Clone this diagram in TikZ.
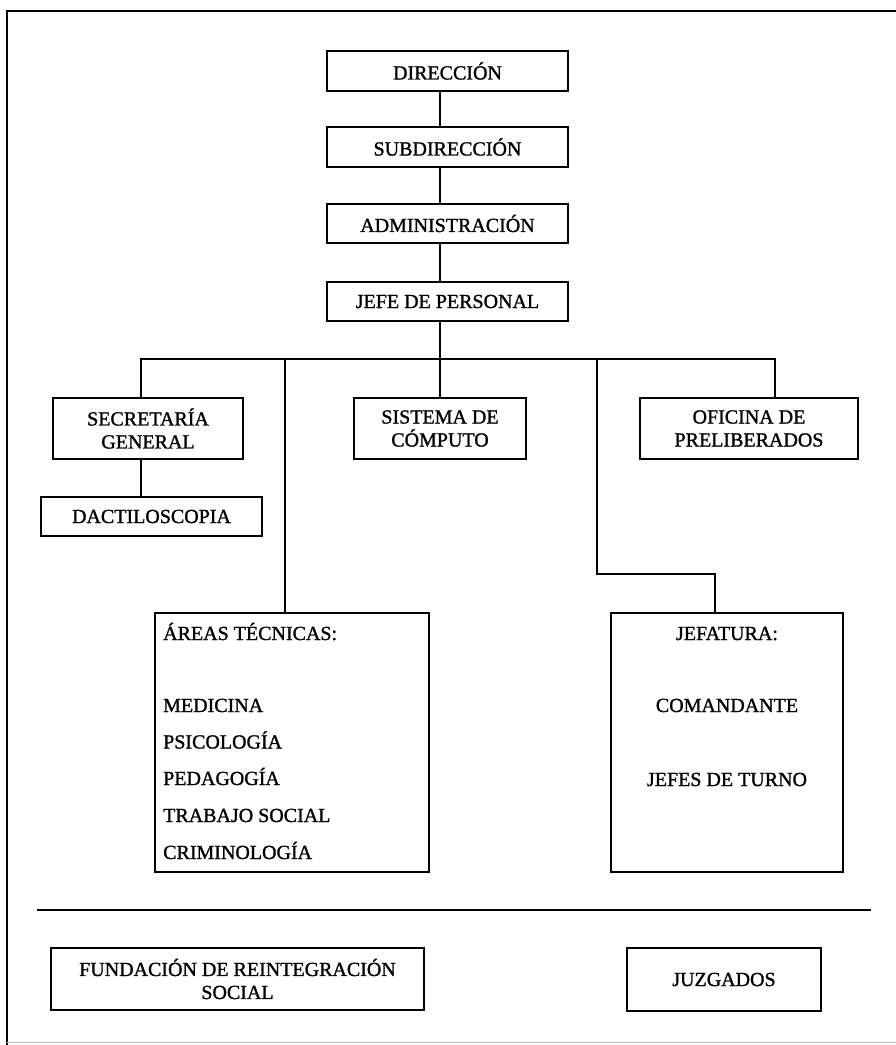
\documentclass[tikz,border=0pt]{standalone}
\usepackage{fontspec}
\setmainfont{Liberation Serif}[FakeBold=1.2]
\begin{document}
\begin{tikzpicture}[x=1pt,y=-1pt,
  box/.style={draw,line width=1.7pt,inner sep=0pt,align=center,font=\fontsize{20}{23}\selectfont},
  conn/.style={line width=1.4pt},
  txt/.style={inner sep=0pt,font=\fontsize{20}{23}\selectfont},
  frame/.style={line width=2pt}]
\useasboundingbox (0,0) rectangle (896,1045);
\fill[white] (0,0) rectangle (896,1045);
% frame
\draw[frame] (896,11) -- (7,11) -- (7,1045);
\draw[black!25,line width=0.8pt] (7,1042) -- (896,1042);
% top chain
\node[box,minimum width=241pt,minimum height=40pt] (dir) at (447.5,71) {DIRECCIÓN};
\node[box,minimum width=241pt,minimum height=40pt] (sub) at (447.5,147) {SUBDIRECCIÓN};
\node[box,minimum width=241pt,minimum height=39pt] (adm) at (447.5,223.5) {ADMINISTRACIÓN};
\node[box,minimum width=241pt,minimum height=39pt] (jef) at (447.5,301.5) {JEFE DE PERSONAL};
% second level
\node[box,minimum width=190pt,minimum height=61pt] (sec) at (148,428.5) {SECRETARÍA\\GENERAL};
\node[box,minimum width=172pt,minimum height=61pt] (sis) at (440,428.5) {SISTEMA DE\\CÓMPUTO};
\node[box,minimum width=218pt,minimum height=61pt] (ofi) at (749,428.5) {OFICINA DE\\PRELIBERADOS};
\node[box,minimum width=221pt,minimum height=39pt] (dact) at (151.5,516.5) {DACTILOSCOPIA};
% large boxes
\node[draw,line width=1.7pt,minimum width=274pt,minimum height=259pt,inner sep=0pt] (areas) at (292,742.5) {};
\node[draw,line width=1.7pt,minimum width=232pt,minimum height=259pt,inner sep=0pt] (jefat) at (727,742.5) {};
\node[txt,anchor=base west] (a0) at (163,640) {ÁREAS TÉCNICAS:};
\node[txt,anchor=base west] (a1) at (163,712) {MEDICINA};
\node[txt,anchor=base west] (a2) at (163,748.5) {PSICOLOGÍA};
\node[txt,anchor=base west] (a3) at (163,785) {PEDAGOGÍA};
\node[txt,anchor=base west] (a4) at (163,822) {TRABAJO SOCIAL};
\node[txt,anchor=base west] (a5) at (163,859) {CRIMINOLOGÍA};
\node[txt,anchor=base] (j0) at (727,640) {JEFATURA:};
\node[txt,anchor=base] (j1) at (727,712) {COMANDANTE};
\node[txt,anchor=base] (j2) at (727,786) {JEFES DE TURNO};
% bottom
\node[box,minimum width=373pt,minimum height=62pt] (fund) at (237.5,979) {FUNDACIÓN DE REINTEGRACIÓN\\SOCIAL};
\node[box,minimum width=194pt,minimum height=63pt] (juz) at (724,979.5) {JUZGADOS};
\coordinate (sepL) at (37,910);
\coordinate (sepR) at (871,910);
\draw[line width=1.6pt] (sepL) -- (sepR);
% connectors
\coordinate (spine) at (440,0);
\coordinate (busL) at (141,359);
\coordinate (busR) at (775,359);
\coordinate (aX) at (285,359);
\coordinate (jX) at (597,359);
\coordinate (jK) at (715,574);
\draw[conn] (dir.south -| spine) -- (sub.north -| spine);
\draw[conn] (sub.south -| spine) -- (adm.north -| spine);
\draw[conn] (adm.south -| spine) -- (jef.north -| spine);
\draw[conn] (jef.south -| spine) -- (sis.north -| spine);
\draw[conn] (sec.north -| busL) -- (busL) -- (busR) -- (ofi.north -| busR);
\draw[conn] (sec.south -| busL) -- (dact.north -| busL);
\draw[conn] (aX) -- (areas.north -| aX);
\draw[conn] (jX) -- (jX |- jK) -- (jK) -- (jefat.north -| jK);
\end{tikzpicture}
\end{document}
